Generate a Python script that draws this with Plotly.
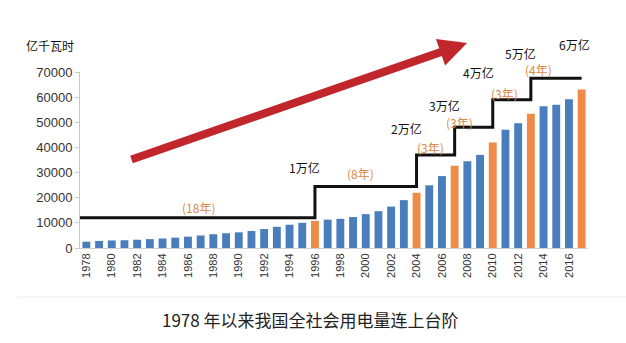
import plotly.graph_objects as go

years = list(range(1978, 2018))
consumption = [2498, 2820, 3006, 3096, 3280, 3519, 3778, 4117, 4507, 4985,
               5467, 5865, 6230, 6775, 7542, 8427, 9260, 10023, 10764, 11284,
               11598, 12305, 13472, 14633, 16465, 19032, 21971, 24940, 28588, 32712,
               34541, 37032, 41934, 47001, 49591, 53423, 56384, 56933, 59198, 63077]
milestone_years = [1996, 2004, 2007, 2010, 2013, 2017]

step_years = [1977.5, 1996, 2004, 2007, 2010, 2013, 2017]
step_levels = [12000, 24500, 37000, 48000, 59000, 67500, 67500]

milestone_labels = ["1万亿", "2万亿", "3万亿", "4万亿", "5万亿", "6万亿"]
duration_labels = ["(18年)", "(8年)", "(3年)", "(3年)", "(3年)", "(4年)"]

tick_years = list(range(1978, 2017, 2))

BLUE = "#4a7dbb"
ORANGE = "#f08a47"
colors = [ORANGE if y in milestone_years else BLUE for y in years]

X0, X1 = 1977.5, 2017.5
Y1 = 70000


def px(year):
    return (year - X0) / (X1 - X0)


def py(val):
    return val / Y1


fig = go.Figure()
fig.add_trace(go.Bar(x=years, y=consumption, marker_color=colors, marker_line_width=0,
                     width=0.62, showlegend=False))
fig.add_trace(go.Scatter(x=step_years, y=step_levels, mode="lines", line_shape="hv",
                         line=dict(color="#111111", width=3), showlegend=False))

# label placement (in data units, converted to paper so they are never hidden)
ms_pos = [(1995.2, 32000), (2003.2, 47500), (2006.2, 56500), (2008.9, 70000), (2012.2, 77500), (2016.4, 81000)]
du_pos = [(1986.8, 16300), (1999.6, 29600), (2005.1, 39800), (2007.4, 49800), (2010.9, 61600), (2013.6, 71000)]

for (x, y), t in zip(ms_pos, milestone_labels):
    fig.add_annotation(x=px(x), y=py(y), text=t, showarrow=False, xref="paper", yref="paper",
                       xanchor="center", yanchor="middle",
                       font=dict(size=12, color="#111111", family="Noto Sans CJK SC"))
for (x, y), t in zip(du_pos, duration_labels):
    fig.add_annotation(x=px(x), y=py(y), text=t, showarrow=False, xref="paper", yref="paper",
                       xanchor="center", yanchor="middle",
                       font=dict(size=12, color="#d98a45", family="Noto Sans CJK SC"))

# red trend arrow
fig.add_annotation(x=(467 - 80) / 508, y=(248 - 43) / 176, xref="paper", yref="paper",
                   ax=-337, ay=117, axref="pixel", ayref="pixel", text="",
                   showarrow=True, arrowhead=2, arrowsize=0.7, arrowwidth=8,
                   arrowcolor="#c0262b")

# unit title
fig.add_annotation(x=(50 - 80) / 508, y=(248 - 45) / 176, xref="paper", yref="paper",
                   xanchor="center", yanchor="middle",
                   text="亿千瓦时", showarrow=False,
                   font=dict(size=12, color="#111111", family="Noto Sans CJK SC"))

# caption
fig.add_annotation(x=(310 - 80) / 508, y=(248 - 319) / 176, xref="paper", yref="paper",
                   xanchor="center", yanchor="middle",
                   text="1978 年以来我国全社会用电量连上台阶", showarrow=False,
                   font=dict(size=17, color="#222222", family="Noto Sans CJK SC"))

fig.add_shape(type="line", xref="paper", yref="paper",
              x0=(17 - 80) / 508, x1=(626 - 80) / 508,
              y0=(248 - 297) / 176, y1=(248 - 297) / 176,
              line=dict(color="#ececec", width=1))

fig.update_layout(
    width=626, height=343,
    margin=dict(l=80, r=38, t=72, b=95),
    paper_bgcolor="white", plot_bgcolor="white",
    font=dict(family="Liberation Sans, Noto Sans CJK SC", color="#333333"),
    bargap=0.35,
)
fig.update_xaxes(range=[X0, X1], tickvals=tick_years,
                 ticktext=[str(y) for y in tick_years], tickangle=-90,
                 tickfont=dict(size=11, color="#333333"),
                 showline=True, linecolor="#d0d0d0", linewidth=1,
                 showgrid=False, zeroline=False, ticks="")
fig.update_yaxes(range=[0, Y1], dtick=10000, tickformat="d",
                 tickfont=dict(size=13, color="#333333"),
                 showline=True, linecolor="#c8c8c8", linewidth=1,
                 ticks="outside", ticklen=4, tickcolor="#c8c8c8",
                 showgrid=False, zeroline=False)

fig.write_html("out.html")
